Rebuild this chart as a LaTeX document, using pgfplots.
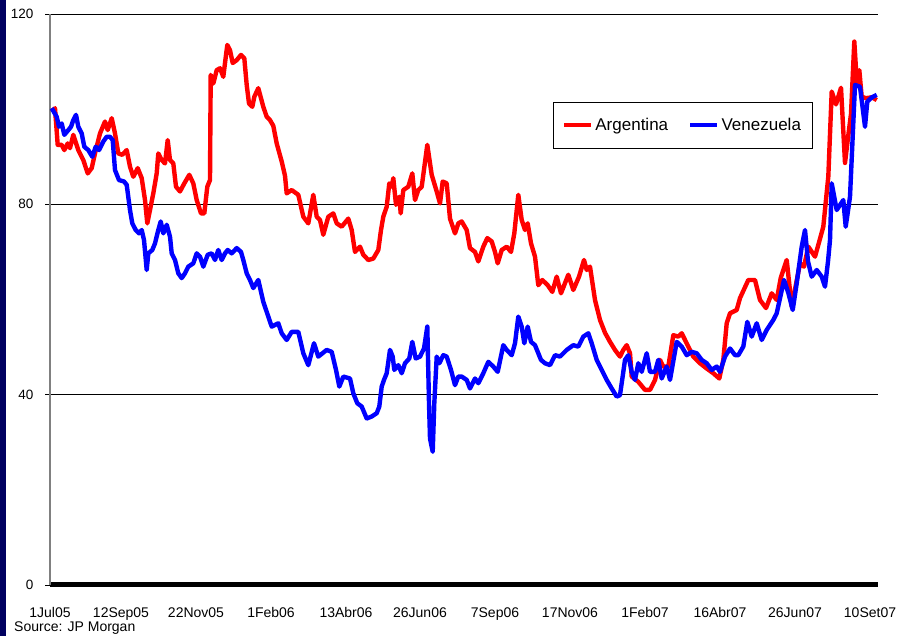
\documentclass[border=0pt]{standalone}
\usepackage{fontspec}
\setmainfont{Liberation Sans}
\usepackage{pgfplots}
\usepackage{pgfplotstable}
\pgfplotsset{compat=1.18}
\definecolor{slidenavy}{RGB}{0,0,96}

% x: position along the daily category axis (1Jul05 ... 10Set07), y: index
\pgfplotstableread{
x y
51.7 100.2
53.3 99.8
55 100.2
57.7 92.5
61.7 92.5
64.3 91.4
67.7 92.8
70 91.8
73.3 94.6
78.3 91.4
83.3 89.3
87.7 86.5
91.7 87.6
95 90.7
100 94.9
105 97.4
107.7 95.6
111.7 98.1
115 94.9
118.3 90.7
122.3 90.4
126.7 91.4
130 87.9
133.3 85.8
137.7 87.6
141.7 85.5
145 80.9
147.3 76.0
150 78.8
153.3 82.3
156.7 86.5
158.3 90.7
161.7 89.3
165 88.6
167.7 93.5
170 89.3
173.3 88.6
176 83.7
180 82.7
184.3 84.4
189.3 86.2
193.3 84.4
196.7 80.9
201 78.1
204.3 78.1
207.3 83.7
210 85.1
210.7 107.2
213.3 105.4
216.7 108.2
220 108.6
223.3 106.8
225 109.7
227.3 113.5
230 112.4
232.7 109.7
236.7 110.3
241 111.4
244.3 110.7
246.7 105.1
249 101.2
252.3 100.5
254.3 102.6
258.3 104.4
263.3 100.5
266.7 98.4
270 97.7
273.3 96.5
276.7 92.8
281.7 89
285 86
286.7 82.3
291.7 83
298.3 82
303.3 77.4
308.3 76
313.3 82
316.7 77.4
320 76.7
323.3 73.6
328.3 77.4
333.3 78.1
336.7 76
341.7 75.3
348.3 77
351.7 74.6
355 70
360 71.1
363.3 69.4
368.3 68.3
373.3 68.6
378.3 70.4
381 74.6
383.3 77.4
386.7 79.5
389.3 84.4
391.7 83.7
393.3 85.5
396 79.9
399.3 81.6
400.7 78.1
403.3 83
408.3 83.7
412.3 86.5
415 80.9
418.3 83
421.7 83.7
427.3 92.5
431.7 86.2
436.7 82.7
440 80.2
442.7 84.8
446.7 84.4
450 77
455 73.9
458.3 76
461.7 76.4
466.7 74.6
470 70.8
475 70
478.3 68
483.3 71.1
487.3 72.9
491.7 72.2
495 70
497.7 67.6
501.7 70.4
506.7 71.1
511 70
514.3 73.9
518.3 82
521.7 76.7
525 74.6
527.7 76
531 71.8
535 69
538.3 63
542.3 64.1
547.7 63
552.3 61.6
556.7 64.8
561 61.3
568.3 65.2
573.3 62
579 64.8
584 68.3
586.7 66.2
590 66.9
595 59.9
600 55.7
605 53
610 51.1
615 49.4
620 48
623.3 49.4
626.7 50.4
630 48.7
631.7 43.8
638.3 42.7
645 41
650 41
655 43.1
660 47.3
663.3 45.9
668.3 45.9
673.3 52.5
678.3 52.2
681.7 52.9
688.3 50.1
693.3 48
700 46.6
706.7 45.5
713.3 44.5
719.3 43.4
723.3 47.3
726.7 55
730 57.1
736.7 57.8
740 60.3
748.3 64.1
755 64.1
760 59.9
766 58.2
771.7 61.3
776.7 59.9
780.7 64.5
786.7 68.3
791.7 58.5
800 67.6
804 66.9
808.3 71.1
815 69
819 72
823.3 75.3
828.3 85.8
831.7 103.7
836 101
841 104.5
845 88.7
848 94
851 99
854.3 114.2
857 105
859.3 108.2
861.7 102.6
866 102.3
872 102.5
876.7 101.9
}\argentina

\pgfplotstableread{
x y
51.7 100.2
56.7 98.4
59 96.3
61.7 97
64.3 94.6
68.3 95.6
71 96.3
73.3 97.7
76 98.8
78.3 96.3
81.7 94.9
84.3 92.1
88.3 91.4
92.3 90
95.7 92.1
99 91.4
103.3 93.2
106.7 94.2
110 94.2
112.7 93.5
115 87.2
119 85.1
124 84.8
126.7 84.1
130 78.8
132.3 76
135.7 74.6
139 73.9
141.7 74.6
144 72.5
146.7 66.2
148.3 69.7
152.3 70.4
155 71.8
158.3 74.6
160.7 76.4
163.3 73.9
166.7 75.7
170 73.2
171.7 69.7
175 68.3
178.3 65.5
181.7 64.5
185 65.5
188.3 66.9
193.3 67.6
196.7 69.7
200 69
203.3 66.9
207.7 69.4
211.7 69.7
215 68.3
218.3 70.4
221.7 68.3
225 69.7
227.7 70.4
231.7 69.7
236.7 70.8
241 70
243.3 68.3
246.7 65.5
250 64.1
253.3 62.4
258.3 64.1
263.3 59.5
266.7 57.4
271.7 54.3
278.3 55
281.7 52.9
286.7 51.5
291.7 53.2
298.3 53.2
303.3 48.7
308.3 46.2
314 50.8
318.3 48
326.7 49.4
331.7 49
336 45.2
339.3 41.7
343.3 43.8
350 43.4
353.3 40.3
357.3 38.2
361.7 37.5
366.7 35
371.7 35.4
376.7 36.1
379.3 37.5
381.7 41.7
384 43.1
386.7 44.5
390 49.4
392.7 48
394.3 45.2
398.3 46.2
401.7 44.5
405 46.6
409.3 47.6
412.3 51.1
415.7 47.6
420 48
424 49.7
427.3 54.3
429 38.2
430 30.8
432.7 28
434.3 38.2
436.7 48
439.3 46.6
443.3 48.3
446.7 48
451 45.2
455 42
458.3 43.8
461.7 43.8
466.7 43.1
470 41.3
475 43.4
478.3 42.4
483.3 44.5
488.3 46.9
493.3 45.9
497.7 44.8
503.3 50.4
506.7 49.4
511.7 48.3
515 50.8
518.3 56.4
521.7 54.3
524.3 50.8
527.7 54.3
531 51.1
535 50.4
541 47.3
545 46.6
550 46.2
555 48.3
560 48
566.7 49.4
573.3 50.4
578.3 50.1
583.3 52.2
588.3 52.9
591.7 50.8
596.7 47.3
601.7 45.2
606.7 43.1
611.7 41.3
616.7 39.6
620 39.9
625 47.3
628.3 48.3
631.7 44.8
635 43.1
638.3 46.6
641.7 44.8
646.7 48.7
650 44.8
655 44.8
658.3 47.3
661.7 43.4
666.7 45.9
670 43.1
676.7 51.1
681.7 50.1
686.7 48.3
691.7 49
696.7 48.7
701.7 47.3
706.7 46.6
711.7 45.2
716.7 45.9
720 44.8
725 48
730 49.7
735 48.3
738.3 48.3
743.3 50.1
747.3 55.3
751.7 52.2
756.7 55
761.7 51.5
766.7 53.6
773.3 55.7
776.7 57.1
784 64.1
788.3 61.4
792.7 57.8
796.7 63.4
801.7 71.1
805 74.6
808 68
811.7 64.8
816.7 66.2
821.7 64.8
825 62.7
828 68
830 72.5
831.7 84.4
836.7 78.8
843.3 80.9
845.7 75.3
850 81.6
855 105.1
860 104.7
865 96.3
867.3 101.6
872 102.5
876.7 103
}\venezuela

\begin{document}
\begin{tikzpicture}[x=1pt,y=1pt]
\fill[white] (0,0) rectangle (910,636);
\fill[slidenavy] (0,0) rectangle (6,636);
\begin{axis}[
    at={(50pt,51pt)},anchor=south west,
    scale only axis,width=828pt,height=571pt,
    xmin=50,xmax=878,ymin=0,ymax=120,
    axis x line*=bottom,axis y line*=left,
    x axis line style={line width=5pt,black,-},
    y axis line style={line width=1.2pt,gray,-},
    xtick={50,121,196,271,346,420,495,570,645,720,795,870},
    xticklabels={1Jul05,12Sep05,22Nov05,1Feb06,13Abr06,26Jun06,7Sep06,17Nov06,1Feb07,16Abr07,26Jun07,10Set07},
    x tick style={draw=none},
    xticklabel style={font=\fontsize{14}{16}\selectfont,yshift=-14pt},
    ytick={0,40,80,120},
    yticklabels={0,40,80,120},
    y tick style={black,line width=0.8pt},
    tick align=outside,major tick length=5pt,
    yticklabel style={font=\fontsize{13.5}{16}\selectfont,xshift=-8pt},
    ymajorgrids,grid style={black,line width=0.8pt},
    legend style={at={(0.607,0.846)},anchor=north west,draw=black,line width=0.8pt,
      font=\fontsize{17}{20}\selectfont,inner xsep=9pt,inner ysep=14pt,
      /tikz/every even column/.append style={column sep=18pt}},
    legend columns=2,
    legend image code/.code={\draw[#1] (0pt,0pt) -- (27pt,0pt);},
    clip=false,
]
\addplot[red,line width=4.4pt,line join=round] table {\argentina};
\addplot[blue,line width=4.4pt,line join=round] table {\venezuela};
\legend{Argentina,Venezuela}
\end{axis}
\node[anchor=base west,font=\fontsize{14}{16}\selectfont,inner sep=0pt] at (14,4) {Source: JP Morgan};
\pgfresetboundingbox
\path (0,0) rectangle (910,636);
\end{tikzpicture}
\end{document}
